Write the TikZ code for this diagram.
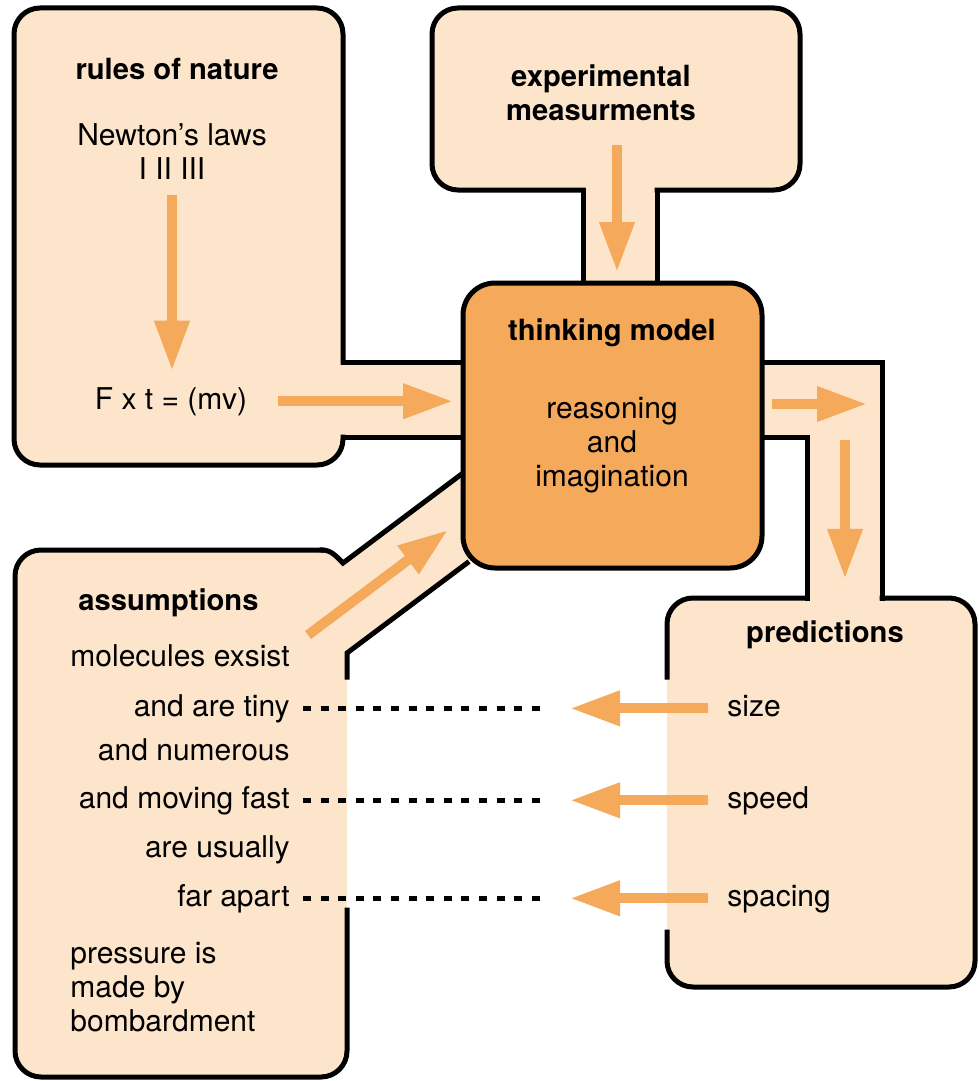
\documentclass[tikz,border=0pt]{standalone}
\usepackage{fontspec}
\setmainfont{TeX Gyre Heros}
\usetikzlibrary{arrows.meta}

\definecolor{peach}{HTML}{FDE5CC}
\definecolor{amber}{HTML}{F5A95A}

\tikzset{
  box/.style={line width=2.5pt, line cap=rect, rounded corners=13pt},
  wall/.style={line width=2.5pt, line cap=rect},
  modelbox/.style={draw, line width=2.5pt, fill=amber, rounded corners=16pt,
    minimum width=149.5pt, minimum height=142.5pt, inner sep=0pt},
  txt/.style={inner sep=0pt, font=\fontsize{15}{17}\selectfont},
  hdr/.style={inner sep=0pt, font=\fontsize{14.6}{17}\selectfont\bfseries},
  flow/.style={amber, line width=5pt, -{Triangle[length=25pt,width=16.5pt]}},
  link/.style={line width=2.5pt, dash pattern=on 4pt off 4.8pt},
}

\begin{document}
\begin{tikzpicture}[x=0.5pt, y=-0.5pt]
  \useasboundingbox[fill=white] (0,0) rectangle (979,1081);

  % light fill of boxes and channels
  \fill[peach, rounded corners=13pt] (14,8) rectangle (343,465);
  \fill[peach, rounded corners=13pt] (432,8) rectangle (800,190);
  \fill[peach, rounded corners=13pt] (667,598) rectangle (975,987);
  \fill[peach, rounded corners=13pt] (15,550) rectangle (347,1077);
  \fill[peach] (340,362) rectangle (470,437);
  \fill[peach] (583,185) rectangle (657,290);
  \fill[peach] (755,362) rectangle (882,437);
  \fill[peach] (807,430) rectangle (882,603);
  \fill[peach] (322,550) .. controls (331,550) and (336,556) .. (343,563)
    -- (463,473) -- (470,480) -- (470,565) -- (347,653) -- (322,653) -- cycle;

  % outlines
  \draw[box] (343,362) -- (343,8) -- (14,8) -- (14,465) -- (343,465) -- (343,437);
  \draw[wall] (343,362) -- (463,362);
  \draw[wall] (343,437) -- (463,437);
  \draw[box] (583,190) -- (432,190) -- (432,8) -- (800,8) -- (800,190) -- (657,190);
  \draw[wall] (583,190) -- (583,283);
  \draw[wall] (657,190) -- (657,283);
  \draw[wall] (762,362) -- (882,362) -- (882,598);
  \draw[wall] (762,437) -- (807,437) -- (807,598);
  \draw[box] (667,677) -- (667,598) -- (807,598);
  \draw[box] (882,598) -- (975,598) -- (975,987) -- (667,987) -- (667,932);
  \draw[wall] (463,473) -- (343,563) .. controls (336,556) and (331,550) .. (322,550);
  \draw[box] (322,550) -- (15,550) -- (15,1077) -- (347,1077) -- (347,910);
  \draw[wall] (467,563) -- (347,653) -- (347,677);

  \node[modelbox] (model) at (612.5,425.5) {};

  % texts
  \node[hdr, anchor=base] (rules) at (177,80) {rules of nature};
  \node[txt, anchor=north, align=center] (laws) at (172,123) {Newton's laws\\I II III};
  \node[txt, anchor=base] (fxt) at (171,409) {F x t = (mv)};
  \node[hdr, anchor=north, align=center] (exp) at (601,64) {experimental\\measurments};
  \node[hdr, anchor=base] (think) at (612,340) {thinking model};
  \node[txt, anchor=north, align=center] (reason) at (612,397) {reasoning\\and\\imagination};
  \node[hdr, anchor=base west] (assum) at (78,610) {assumptions};
  \node[txt, anchor=base east] (mol) at (290,666) {molecules exsist};
  \node[txt, anchor=base east] (tiny) at (290,716) {and are tiny};
  \node[txt, anchor=base east] (numer) at (290,760) {and numerous};
  \node[txt, anchor=base east] (fast) at (290,808) {and moving fast};
  \node[txt, anchor=base east] (usual) at (290,857) {are usually};
  \node[txt, anchor=base east] (apart) at (290,906) {far apart};
  \node[txt, anchor=north west, align=left] (press) at (70,942) {pressure is\\made by\\bombardment};
  \node[hdr, anchor=base] (pred) at (825,642) {predictions};
  \node[txt, anchor=base west] (size) at (727,716) {size};
  \node[txt, anchor=base west] (speed) at (727,808) {speed};
  \node[txt, anchor=base west] (spacing) at (727,906) {spacing};

  % arrow ends
  \coordinate (expin) at (617,145);
  \coordinate (outR) at (867,404);
  \coordinate (dnR) at (845,440);
  \coordinate (dgA) at (308,635);
  \coordinate (dgB) at (448,530);
  \coordinate (lk) at (543,0);

  \draw[flow, shorten <=7.5pt, shorten >=8pt] (laws.south) -- (laws.south |- fxt.north);
  \draw[flow, shorten <=15.5pt, shorten >=3.75pt] (fxt.east) -- (fxt.east -| model.west);
  \draw[flow, shorten >=4.25pt] (expin) -- (expin |- model.north);
  \draw[flow, shorten <=3.75pt] (model.east |- outR) -- (outR);
  \draw[flow, shorten >=20.5pt] (dnR) -- (dnR |- pred.north);
  \draw[flow] (dgA) -- (dgB);
  \foreach \a/\p in {tiny/size, fast/speed, apart/spacing} {
    \draw[link, shorten <=6.5pt] (\a.east) -- (\a.east -| lk);
    \draw[flow, shorten <=9.5pt, shorten >=13.5pt] (\p.west |- \a.east) -- (\a.east -| lk);
  }
\end{tikzpicture}
\end{document}
